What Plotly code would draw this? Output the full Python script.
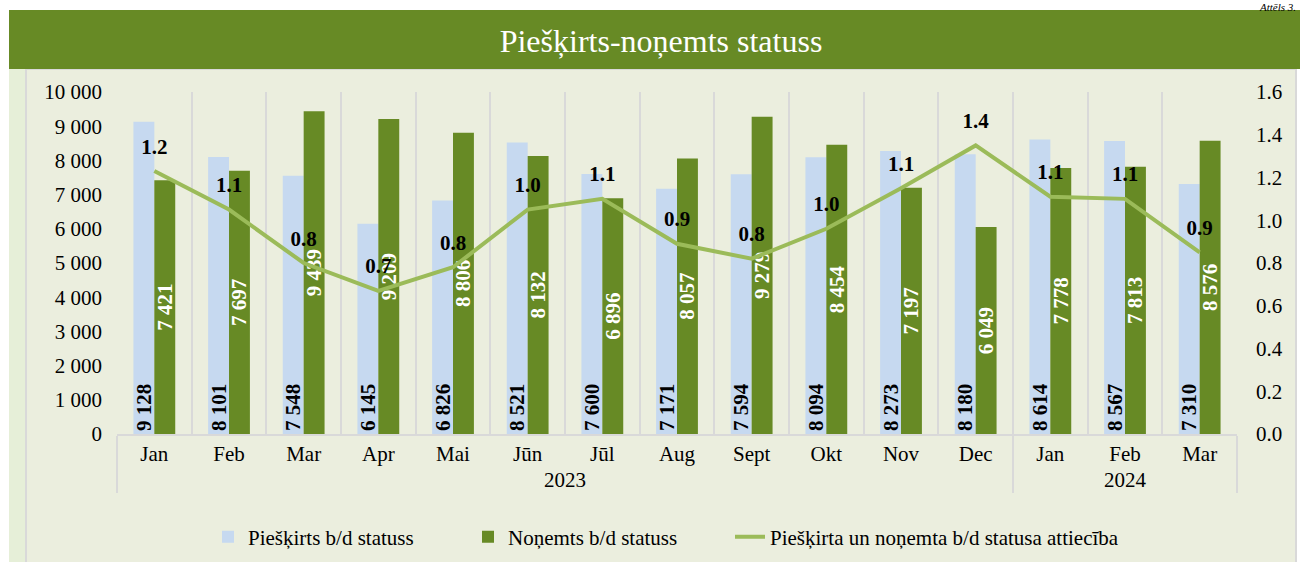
import plotly.graph_objects as go

# Dati
years = ["2023"] * 12 + ["2024"] * 3
months = ["Jan", "Feb", "Mar", "Apr", "Mai", "Jūn", "Jūl", "Aug", "Sept", "Okt", "Nov", "Dec",
          "Jan", "Feb", "Mar"]
pieskirts = [9128, 8101, 7548, 6145, 6826, 8521, 7600, 7171, 7594, 8094, 8273, 8180, 8614, 8567, 7310]
nonemts = [7421, 7697, 9439, 9209, 8806, 8132, 6896, 8057, 9279, 8454, 7197, 6049, 7778, 7813, 8576]
attieciba = [1.23, 1.05, 0.80, 0.67, 0.78, 1.05, 1.10, 0.89, 0.82, 0.96, 1.15, 1.35, 1.11, 1.10, 0.85]
attieciba_txt = ["1.2", "1.1", "0.8", "0.7", "0.8", "1.0", "1.1", "0.9", "0.8", "1.0", "1.1", "1.4",
                 "1.1", "1.1", "0.9"]

FONT = "Liberation Serif"
W, H = 1300, 562
x = [years, months]

# pikseļi -> paper koordinātes (plot: x 117..1237, y 92..434)
def px(v):
    return (v - 117) / 1120

def py(v):
    return (434 - v) / 342

fig = go.Figure()

fig.add_trace(go.Bar(x=x, y=pieskirts, name="Piešķirts b/d statuss", legend="legend",
                     marker=dict(color="#c6d9f0", line=dict(width=0)),
                     texttemplate="%{y:,.0f}", textposition="inside", insidetextanchor="start",
                     textangle=-90, constraintext="none",
                     textfont=dict(family=FONT, size=21, color="black", weight="bold")))
fig.add_trace(go.Bar(x=x, y=nonemts, name="Noņemts b/d statuss", legend="legend2",
                     marker=dict(color="#678a25", line=dict(width=0)),
                     texttemplate="%{y:,.0f}", textposition="inside", insidetextanchor="middle",
                     textangle=-90, constraintext="none",
                     textfont=dict(family=FONT, size=21, color="white", weight="bold")))
fig.add_trace(go.Scatter(x=x, y=attieciba, name="Piešķirta un noņemta b/d statusa attiecība",
                         legend="legend3", mode="lines", line=dict(color="#9bbb59", width=4),
                         yaxis="y2"))
fig.add_trace(go.Scatter(x=x, y=attieciba, mode="markers+text", text=attieciba_txt,
                         textposition="top center", showlegend=False, hoverinfo="skip",
                         marker=dict(size=18, color="rgba(0,0,0,0)"),
                         textfont=dict(family=FONT, size=21, color="black", weight="bold"),
                         yaxis="y2"))

# fons un virsraksta josla
fig.add_shape(type="rect", xref="paper", yref="paper", x0=px(9), x1=px(26), y0=py(563), y1=py(69),
              fillcolor="#e6efd8", line=dict(width=0), layer="below")
fig.add_shape(type="rect", xref="paper", yref="paper", x0=px(26), x1=px(1296), y0=py(564), y1=py(69),
              fillcolor="#ebeede", line=dict(color="#d9d9d9", width=2), layer="below")
fig.add_shape(type="rect", xref="paper", yref="paper", x0=px(9), x1=px(1301), y0=py(69), y1=py(10),
              fillcolor="#678a25", line=dict(width=0), layer="below")

fig.add_annotation(text="<i>Attēls 3.</i>", xref="paper", yref="paper",
                   x=px(1298), y=py(-1), xanchor="right", yanchor="top", showarrow=False,
                   font=dict(family=FONT, size=11, color="black"))

def legend_at(left_px):
    return dict(orientation="h", xref="container", x=left_px / W, xanchor="left",
                yref="container", y=1 - 537 / H, yanchor="middle",
                font=dict(family=FONT, size=21), bgcolor="rgba(0,0,0,0)")

fig.update_layout(
    width=W, height=H,
    margin=dict(l=117, r=63, t=92, b=128, autoexpand=False),
    paper_bgcolor="white", plot_bgcolor="rgba(0,0,0,0)",
    separators=". ",
    barmode="group", bargap=0.44, bargroupgap=0,
    font=dict(family=FONT, size=21, color="black"),
    title=dict(text="Piešķirts-noņemts statuss", xref="container", yref="container",
               x=661 / W, xanchor="center", y=1 - 41 / H, yanchor="middle",
               font=dict(family=FONT, size=32, color="white")),
    showlegend=True,
    legend=legend_at(208),
    legend2=legend_at(468),
    legend3=legend_at(730),
    xaxis=dict(type="multicategory", range=[-0.5, 14.5], automargin=False, showgrid=True,
               gridcolor="#d9d9d9", gridwidth=2, tickson="boundaries", ticks="", showline=True,
               linecolor="#d9d9d9", linewidth=2, showdividers=True, dividercolor="#d9d9d9",
               dividerwidth=2, tickfont=dict(family=FONT, size=21)),
    yaxis=dict(range=[0, 10000], dtick=1000, tickformat=",.0f", showgrid=False, zeroline=False,
               automargin=False, ticks="", ticklabelstandoff=14,
               tickfont=dict(family=FONT, size=21)),
    yaxis2=dict(range=[0, 1.6], dtick=0.2, tickformat=".1f", overlaying="y", side="right",
                automargin=False, showgrid=False, zeroline=False, ticks="", ticklabelstandoff=18,
                tickfont=dict(family=FONT, size=21)),
)

# bez lapas noklusētās 8px atkāpes
fig.write_html("out.html", config={"displayModeBar": False},
               post_script="document.body.style.margin = '0';")
